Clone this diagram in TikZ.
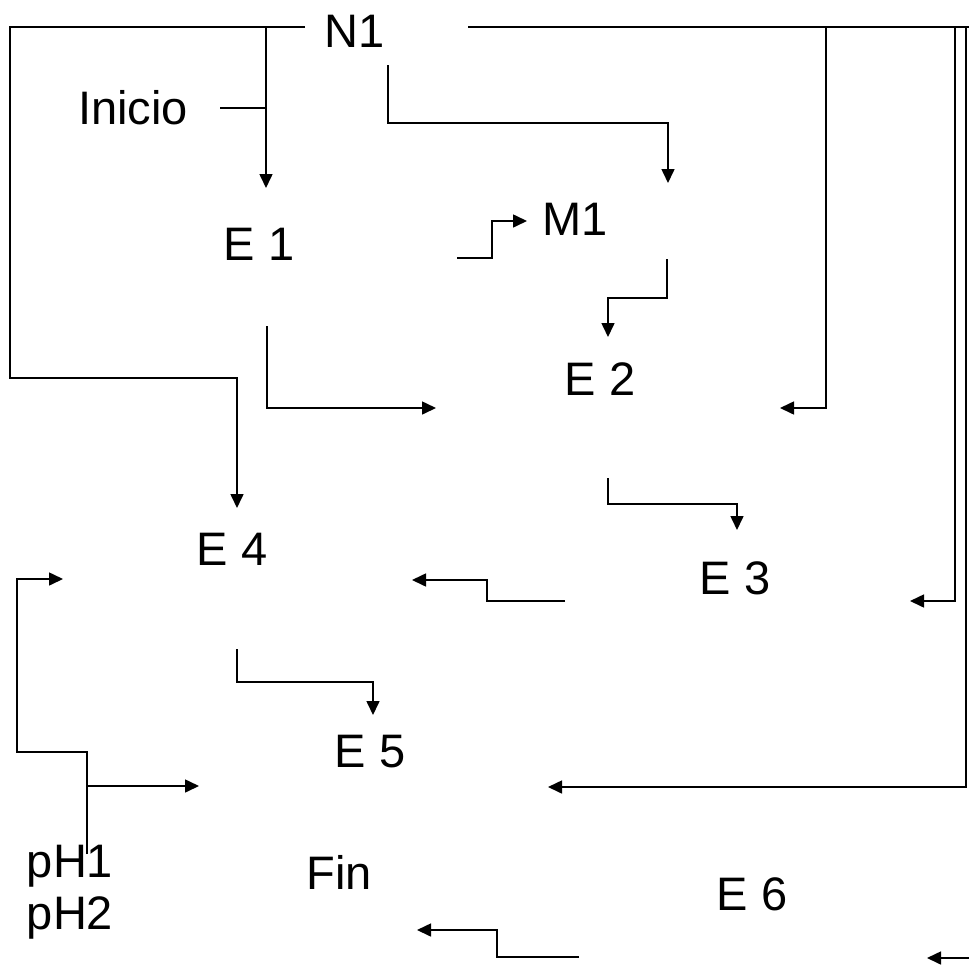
\documentclass[tikz,border=0pt]{standalone}
\usepackage{fontspec}
\setmainfont{Liberation Sans}
\usetikzlibrary{arrows.meta}
\begin{document}
\begin{tikzpicture}[x=1pt,y=-1pt,
  lbl/.style={font=\fontsize{47}{56}\selectfont, inner sep=0pt, text height=34pt, text depth=0pt, anchor=center},
  ln/.style={line width=1.6pt, line join=miter},
  arr/.style={ln, -{Triangle[length=14pt,width=13pt]}}]
\useasboundingbox (0,0) rectangle (969,972);
\fill[white] (0,0) rectangle (969,972);
% labels
\node[lbl] (N1) at (355,30) {N1};
\node[lbl] (Inicio) at (133,107) {Inicio};
\node[lbl] (E1) at (259,243) {E 1};
\node[lbl] (M1) at (575,218) {M1};
\node[lbl] (E2) at (600,378) {E 2};
\node[lbl] (E4) at (232,548) {E 4};
\node[lbl] (E3) at (735,577) {E 3};
\node[lbl] (E5) at (370,750) {E 5};
\node[lbl] (pH1) at (70,860) {pH1};
\node[lbl] (pH2) at (70,912) {pH2};
\node[lbl] (Fin) at (339,872) {Fin};
\node[lbl] (E6) at (752,893) {E 6};
% connector ends
\coordinate (n1l) at (305,27);
\coordinate (n1r) at (468,27);
\coordinate (n1b) at (388,65);
\coordinate (rend) at (969,27);
\coordinate (e1in) at (266,188);
\coordinate (iniR) at (220,108);
\coordinate (e4in) at (237,508);
\coordinate (e2top) at (668,183);
\coordinate (m1s) at (457,258);
\coordinate (m1in) at (527,221);
\coordinate (m1b) at (667,259);
\coordinate (e2in) at (608,337);
\coordinate (e1b) at (267,326);
\coordinate (e1t) at (436,408);
\coordinate (r1t) at (780,408);
\coordinate (e2b) at (608,478);
\coordinate (e3in) at (737,530);
\coordinate (r2t) at (910,601);
\coordinate (e3s) at (565,601);
\coordinate (e3t) at (412,580);
\coordinate (e4b) at (237,649);
\coordinate (e5in) at (373,715);
\coordinate (r3t) at (548,787);
\coordinate (phs) at (87,854);
\coordinate (pht1) at (63,579);
\coordinate (pht2) at (199,786);
\coordinate (fins) at (579,957);
\coordinate (fint) at (417,930);
\coordinate (e6s) at (969,958);
\coordinate (e6t) at (927,958);
% connectors
\draw[arr] (n1l) -- (10,27) -- (10,378) -- (237,378) -- (e4in);
\draw[arr] (266,27) -- (e1in);
\draw[ln] (iniR) -- (266,108);
\draw[arr] (n1b) -- (388,123) -- (668,123) -- (e2top);
\draw[ln] (n1r) -- (rend);
\draw[arr] (826,27) -- (826,408) -- (r1t);
\draw[arr] (955,27) -- (955,601) -- (r2t);
\draw[arr] (966,27) -- (966,787) -- (r3t);
\draw[arr] (m1s) -- (492,258) -- (492,221) -- (m1in);
\draw[arr] (m1b) -- (667,298) -- (608,298) -- (e2in);
\draw[arr] (e1b) -- (267,408) -- (e1t);
\draw[arr] (e2b) -- (608,504) -- (737,504) -- (e3in);
\draw[arr] (e3s) -- (487,601) -- (487,580) -- (e3t);
\draw[arr] (e4b) -- (237,682) -- (373,682) -- (e5in);
\draw[arr] (phs) -- (87,752) -- (17,752) -- (17,579) -- (pht1);
\draw[arr] (87,786) -- (pht2);
\draw[arr] (fins) -- (497,957) -- (497,930) -- (fint);
\draw[arr] (e6s) -- (e6t);
\end{tikzpicture}
\end{document}
